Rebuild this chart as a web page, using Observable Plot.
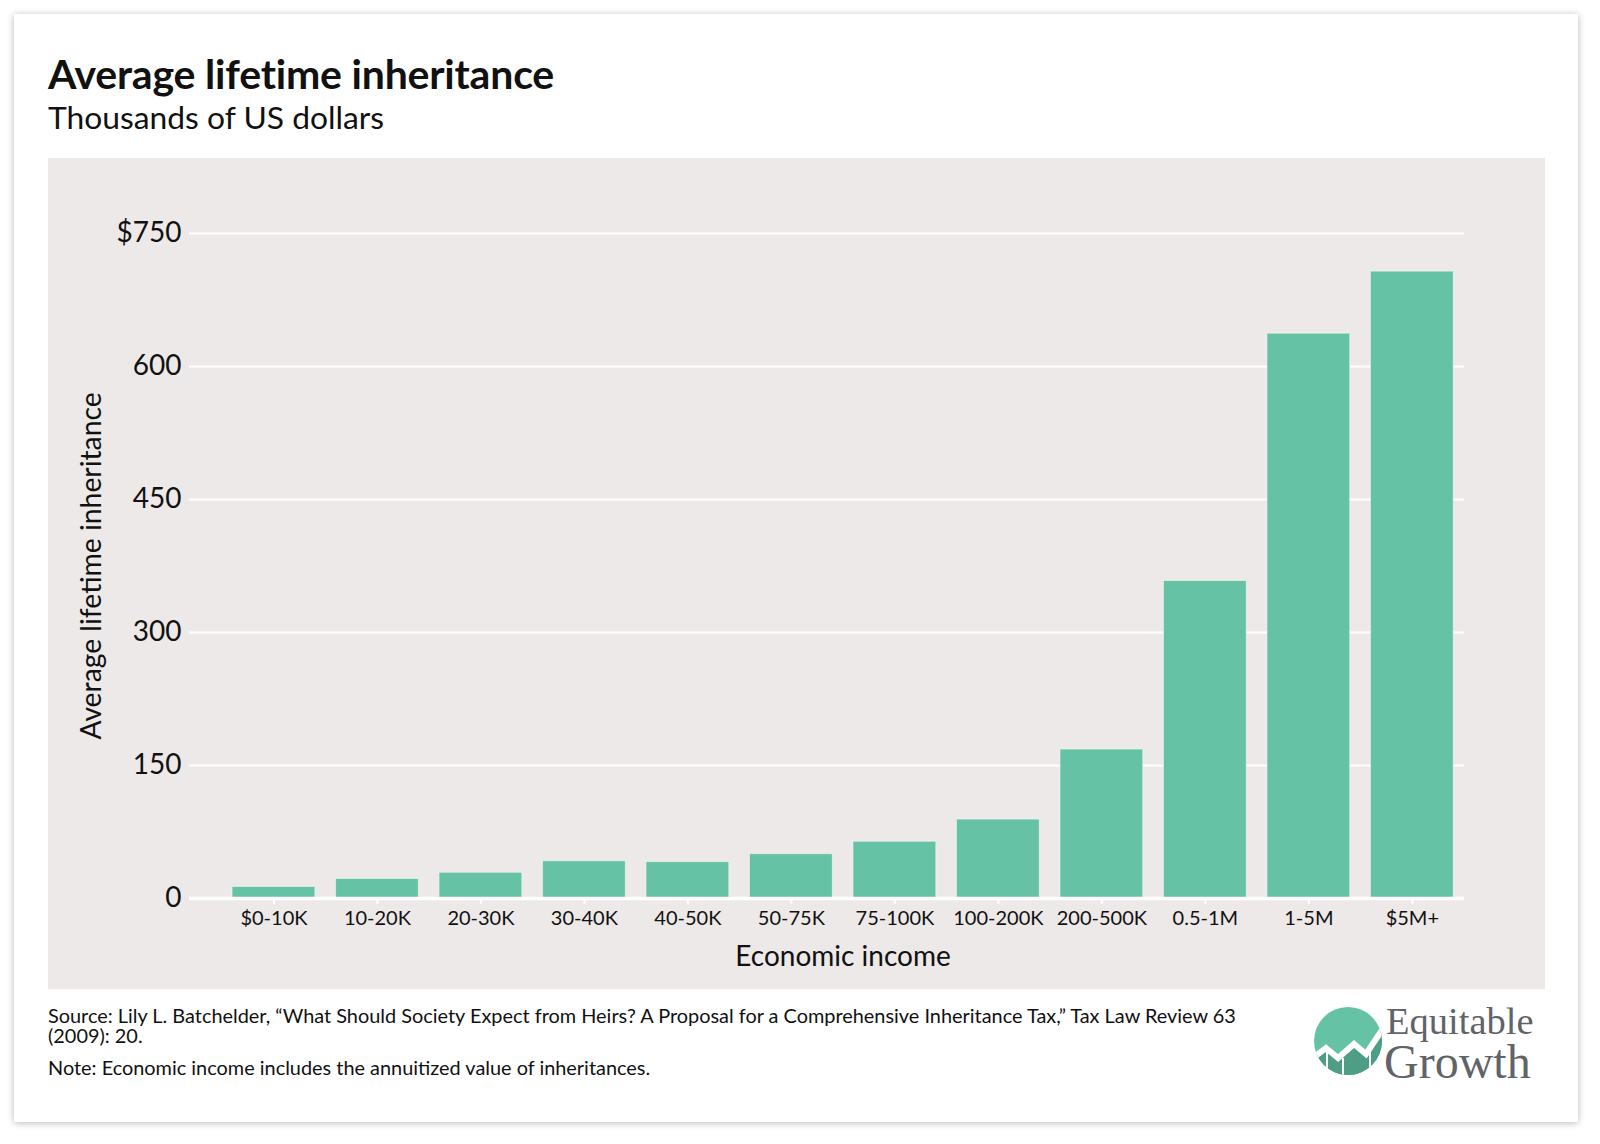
<!DOCTYPE html>
<html>
<head>
<meta charset="utf-8">
<script src="https://cdn.jsdelivr.net/npm/d3@7"></script>
<script src="https://cdn.jsdelivr.net/npm/@observablehq/plot@0.6"></script>
<style>
  body { margin: 0; background: #fff; font-family: Lato, sans-serif; }
  #card { position: absolute; left: 14px; top: 14px; width: 1564px; height: 1108px; background: #fff;
          box-shadow: 0 1px 7px rgba(0,0,0,0.28); }
  #title { position: absolute; left: 34px; top: 39px; font-size: 41px; line-height: 1; font-weight: 700; color: #111; letter-spacing: -0.2px; }
  #subtitle { position: absolute; left: 34px; top: 88px; font-size: 31.8px; line-height: 1; color: #111; }
  #panel { position: absolute; left: 34px; top: 144px; width: 1497px; height: 831px; background: #ece9e8; }
  #source { position: absolute; left: 34px; top: 991px; width: 1240px; font-size: 19.9px; line-height: 20px; color: #111; }
  #note { position: absolute; left: 34px; top: 1041px; font-size: 19.9px; color: #111; }
  #logo { position: absolute; left: 1296px; top: 982px; }
</style>
</head>
<body>
<div id="card">
  <div id="title">Average lifetime inheritance</div>
  <div id="subtitle">Thousands of US dollars</div>
  <div id="panel"><div id="chart"></div></div>
  <div id="source">Source: Lily L. Batchelder, “What Should Society Expect from Heirs? A Proposal for a Comprehensive Inheritance Tax,” Tax Law Review 63 (2009): 20.</div>
  <div id="note">Note: Economic income includes the annuitized value of inheritances.</div>
  <svg id="logo" width="260" height="100">
    <defs><clipPath id="cc"><circle cx="38" cy="45" r="34"/></clipPath></defs>
    <g clip-path="url(#cc)">
      <rect x="0" y="0" width="80" height="110" fill="#66c2a5"/>
      <path d="M0,64 L16,52 L28,62 L44,48 L56,58 L80,22 L80,110 L0,110 Z" fill="#4e9e86"/>
      <path d="M0,64 L16,52 L28,62 L44,48 L56,58 L80,22" fill="none" stroke="#fff" stroke-width="6"/>
      <line x1="17" y1="56" x2="17" y2="84" stroke="#fff" stroke-width="2"/>
      <line x1="33" y1="62" x2="33" y2="84" stroke="#fff" stroke-width="2"/>
      <line x1="60" y1="52" x2="60" y2="84" stroke="#fff" stroke-width="2"/>
    </g>
    <text font-family="Liberation Serif, serif" fill="#5f6468">
      <tspan x="76" y="38" font-size="38.5">Equitable</tspan>
      <tspan x="74" y="82" font-size="48">Growth</tspan>
    </text>
  </svg>
</div>
<script>
const incomeGroups = ["$0-10K", "10-20K", "20-30K", "30-40K", "40-50K", "50-75K", "75-100K", "100-200K", "200-500K", "0.5-1M", "1-5M", "$5M+"];
const inheritance = [13, 22, 29, 42, 41, 50, 64, 89, 168, 358, 637, 707];
const yTicks = [0, 150, 300, 450, 600, 750];

const data = incomeGroups.map((g, i) => ({income: g, value: inheritance[i]}));

const chart = Plot.plot({
  width: 1497,
  height: 831,
  marginTop: 75,
  marginBottom: 91,
  marginLeft: 141,
  marginRight: 81,
  style: { background: "transparent", fontFamily: "Lato, sans-serif", fontSize: "20px", color: "#111" },
  x: { domain: incomeGroups, paddingInner: 0.2, paddingOuter: 0.26, align: 0.8, round: false, label: null },
  y: { domain: [0, 750], label: null },
  marks: [
    Plot.ruleY(yTicks.filter(d => d > 0), { stroke: "#fff", strokeWidth: 2 }),
    Plot.barY(data, { x: "income", y: "value", fill: "#66c2a5", stroke: "#fff", strokeOpacity: 0.5, strokeWidth: 1 }),
    Plot.ruleY([0], { stroke: "#fff", strokeWidth: 3.5 }),
    Plot.axisY({ ticks: yTicks, tickSize: 0, tickPadding: 8, fontSize: 28, label: null,
                 tickFormat: d => d === 750 ? "$750" : String(d) }),
    Plot.axisX({ tickSize: 6, tickPadding: 6, stroke: "#fff", strokeWidth: 2, fontSize: 20, label: null }),
    Plot.text(["Average lifetime inheritance"], { frameAnchor: "left", textAnchor: "middle", rotate: -90, dx: -98, fontSize: 28.3 }),
    Plot.text(["Economic income"], { frameAnchor: "bottom", textAnchor: "middle", dx: 16, dy: 67, fontSize: 28 })
  ]
});

d3.select("#chart").append(() => chart);
</script>
</body>
</html>
